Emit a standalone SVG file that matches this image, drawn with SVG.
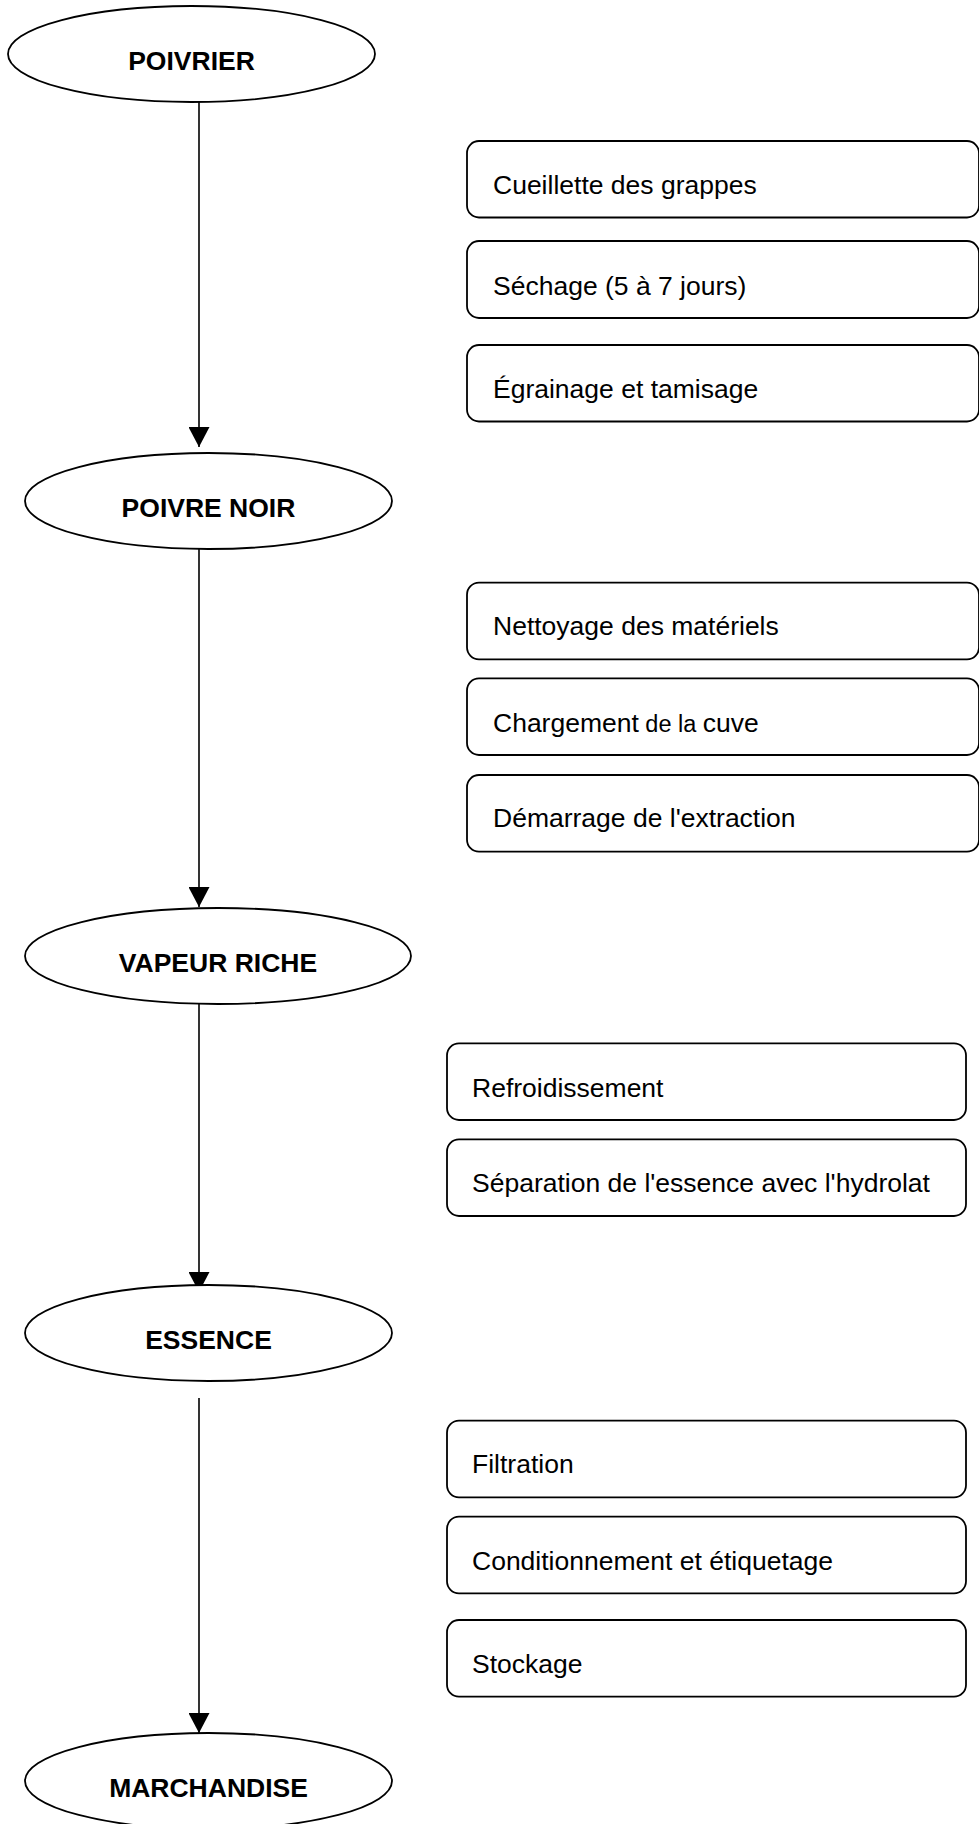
<svg xmlns="http://www.w3.org/2000/svg" width="979" height="1824" viewBox="0 0 979 1824">
<style>
.ell{fill:#fff;stroke:#000;stroke-width:1.8}
.box{fill:#fff;stroke:#000;stroke-width:1.8}
.t{font-family:"Liberation Sans",Arial,sans-serif;font-size:26.5px;fill:#000}
.b{font-family:"Liberation Sans",Arial,sans-serif;font-size:26.5px;font-weight:bold;fill:#000;text-anchor:middle}
.c{stroke:#000;stroke-width:1.6;fill:none}
</style>
<defs>
<marker id="ah" markerUnits="userSpaceOnUse" markerWidth="20" markerHeight="21" refX="20" refY="10.5" orient="auto" viewBox="0 0 20 21">
<path d="M0,0 L20,10.5 L0,21 z" fill="#000"/>
</marker>
</defs>
<rect width="979" height="1824" fill="#fff"/>
<g id="connectors">
<line class="c" x1="199" y1="102" x2="199" y2="447" marker-end="url(#ah)"/>
<line class="c" x1="199" y1="549" x2="199" y2="907" marker-end="url(#ah)"/>
<line class="c" x1="199" y1="1004" x2="199" y2="1292" marker-end="url(#ah)"/>
<line class="c" x1="199" y1="1398" x2="199" y2="1733" marker-end="url(#ah)"/>
</g>
<g id="poivrier">
<ellipse class="ell" cx="191.5" cy="54" rx="183.5" ry="48"/>
<text class="b" x="191.5" y="69.5">POIVRIER</text>
</g>
<g id="poivre-noir">
<ellipse class="ell" cx="208.5" cy="501" rx="183.5" ry="48"/>
<text class="b" x="208.5" y="517">POIVRE NOIR</text>
</g>
<g id="vapeur-riche">
<ellipse class="ell" cx="218" cy="956" rx="193" ry="48"/>
<text class="b" x="218" y="972">VAPEUR RICHE</text>
</g>
<g id="essence">
<ellipse class="ell" cx="208.5" cy="1333" rx="183.5" ry="48"/>
<text class="b" x="208.5" y="1349">ESSENCE</text>
</g>
<g id="marchandise">
<ellipse class="ell" cx="208.5" cy="1781" rx="183.5" ry="48"/>
<text class="b" x="208.5" y="1797">MARCHANDISE</text>
</g>
<g id="cueillette">
<rect class="box" x="467" y="141" width="512" height="76.5" rx="12"/>
<text class="t" x="493" y="194">Cueillette des grappes</text>
</g>
<g id="sechage">
<rect class="box" x="467" y="241" width="512" height="77" rx="12"/>
<text class="t" x="493" y="295">Séchage (5 à 7 jours)</text>
</g>
<g id="egrainage">
<rect class="box" x="467" y="345" width="512" height="76.5" rx="12"/>
<text class="t" x="493" y="398">Égrainage et tamisage</text>
</g>
<g id="nettoyage">
<rect class="box" x="467" y="582.7" width="512" height="76.6" rx="12"/>
<text class="t" x="493" y="635">Nettoyage des matériels</text>
</g>
<g id="chargement">
<rect class="box" x="467" y="678.3" width="512" height="76.7" rx="12"/>
<text class="t" x="493" y="731.7">Chargement<tspan font-size="23.5px"> de la </tspan>cuve</text>
</g>
<g id="demarrage">
<rect class="box" x="467" y="775" width="512" height="76.7" rx="12"/>
<text class="t" x="493" y="827.3">Démarrage de l'extraction</text>
</g>
<g id="refroidissement">
<rect class="box" x="447" y="1043.3" width="519" height="76.7" rx="12"/>
<text class="t" x="472" y="1096.7">Refroidissement</text>
</g>
<g id="separation">
<rect class="box" x="447" y="1139.3" width="519" height="76.7" rx="12"/>
<text class="t" x="472" y="1191.7" font-size="27.6px">Séparation de l'essence avec l'hydrolat</text>
</g>
<g id="filtration">
<rect class="box" x="447" y="1420.7" width="519" height="76.6" rx="12"/>
<text class="t" x="472" y="1473.3">Filtration</text>
</g>
<g id="conditionnement">
<rect class="box" x="447" y="1516.7" width="519" height="76.6" rx="12"/>
<text class="t" x="472" y="1570">Conditionnement et étiquetage</text>
</g>
<g id="stockage">
<rect class="box" x="447" y="1620" width="519" height="76.7" rx="12"/>
<text class="t" x="472" y="1673.3">Stockage</text>
</g>
</svg>
